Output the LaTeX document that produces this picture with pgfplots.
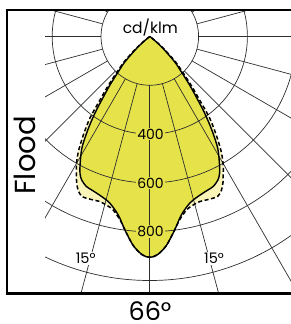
\documentclass[border=0pt]{standalone}
\usepackage{fontspec}
\setmainfont{Poppins}
\usepackage{pgfplots}
\pgfplotsset{compat=1.18}
\usepackage{pgfplotstable}

\definecolor{mainyel}{HTML}{E6E24A}
\definecolor{paleyel}{HTML}{FAF4B8}
\definecolor{gridc}{HTML}{2E2E2E}

% angle t (degrees from straight down), intensity r (cd/klm)
\pgfplotstableread{
t r
-53 0
-51 25
-48 72
-44.5 145
-41.8 193
-39.4 257
-37.1 327
-35.5 390
-33.5 462
-31.3 536
-28.5 599
-27 630
-25.4 651
-23 667
-21 672
-18.7 678
-16 688
-13.4 703
-10 743
-7.3 800
-4.5 860
-2 895
0 905
2 895
4.5 860
7.3 800
10 743
13.4 703
16 688
18.7 678
21 672
23 667
25.4 651
27 630
28.5 599
31.3 536
33.5 462
35.5 390
37.1 327
39.4 257
41.8 193
44.5 145
48 72
51 25
53 0
}\solidtab

\pgfplotstableread{
t r
-54 0
-52 25
-49 72
-45.5 145
-42.6 200
-40.2 265
-38 335
-36.3 414
-34.0 487
-31.8 556
-29.6 610
-28 640
-26.7 668
-25 695
-23 712
-20 710
-16.8 707
-14 715
-11.9 727
-9.2 762
-7.3 800
-4.5 860
-2 895
0 905
2 895
4.5 860
7.3 800
9.2 762
11.9 727
14 715
16.8 707
20 710
23 712
25 695
26.7 668
28 640
29.6 610
31.8 556
34.0 487
36.3 414
38 335
40.2 265
42.6 200
45.5 145
49 72
52 25
54 0
}\dashtab

\pgfplotsset{polarbase/.style={
  hide axis, x=0.244pt, y=0.244pt,
  xmin=-585.2, xmax=582.8, ymin=-1054.1, ymax=108.6,
  clip=false, anchor=south west, at={(7pt,-293.7pt)}}}

\begin{document}
\begin{tikzpicture}
\path[use as bounding box] (0pt,0pt) rectangle (290pt,-324pt);

% fills
\begin{axis}[polarbase]
\addplot[fill=paleyel, draw=none, smooth, tension=0.5]
  table[x expr={\thisrow{r}*sin(\thisrow{t})}, y expr={-\thisrow{r}*cos(\thisrow{t})}] {\dashtab};
\addplot[fill=mainyel, draw=none, smooth, tension=0.5]
  table[x expr={\thisrow{r}*sin(\thisrow{t})}, y expr={-\thisrow{r}*cos(\thisrow{t})}] {\solidtab};
\end{axis}

% polar grid
\begin{scope}
\clip (45pt,-10pt) rectangle (292pt,-293.7pt);
\begin{scope}[shift={(149.8pt,-36.5pt)}, x=0.244pt, y=0.244pt]
\foreach \a in {0,15,...,345} \draw[gridc, line width=0.7pt] (\a:200) -- (\a:2500);
\foreach \r in {200,400,600,800,1000,1200} \draw[gridc, line width=0.7pt] (0,0) circle[radius=\r];
\end{scope}
\end{scope}

% outlines
\begin{axis}[polarbase]
\addplot[black, line width=1.5pt, dash pattern=on 4pt off 2.6pt, smooth, tension=0.5]
  table[x expr={\thisrow{r}*sin(\thisrow{t})}, y expr={-\thisrow{r}*cos(\thisrow{t})}] {\dashtab};
\addplot[black, line width=1.4pt, smooth, tension=0.5]
  table[x expr={\thisrow{r}*sin(\thisrow{t})}, y expr={-\thisrow{r}*cos(\thisrow{t})}] {\solidtab};
\end{axis}

% labels
\begin{scope}[shift={(149.8pt,-36.5pt)}, x=0.244pt, y=0.244pt]
\node[font=\fontsize{15.5}{16}\selectfont, inner sep=0pt] at (2,38) {cd/klm};
\foreach \v in {400,600,800}
  \node[fill=mainyel, font=\fontsize{14}{14}\selectfont, inner sep=1.2pt] at (3,-\v) {\v};
\node[fill=white, font=\fontsize{14.5}{14}\selectfont, inner sep=1pt] at (-263,-910) {15°};
\node[fill=white, font=\fontsize{14.5}{14}\selectfont, inner sep=1pt] at (263,-910) {15°};
\end{scope}

% frame
\draw[black, line width=2.6pt] (300pt,-10pt) -- (7pt,-10pt) -- (7pt,-293.7pt) -- (300pt,-293.7pt);

\node[rotate=90, font=\fontsize{29}{29}\selectfont, inner sep=0pt] at (24.5pt,-155.5pt) {Flood};
\node[font=\fontsize{25.5}{26}\selectfont, inner sep=0pt] at (150pt,-311pt) {66°};
\end{tikzpicture}
\end{document}
